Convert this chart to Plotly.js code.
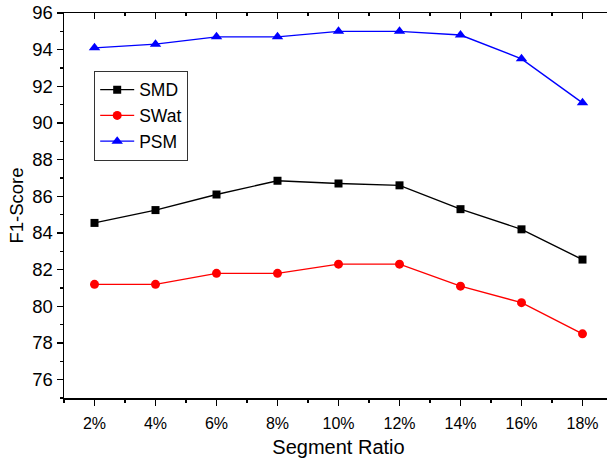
<!DOCTYPE html>
<html>
<head>
<meta charset="utf-8">
<script src="https://cdn.plot.ly/plotly-3.0.1.min.js"></script>
<style>
html, body { margin: 0; padding: 0; overflow: hidden; background: #fff; }
#chart { width: 613px; height: 461px; }
</style>
</head>
<body>
<div id="chart"></div>
<script>
const ratios = [2, 4, 6, 8, 10, 12, 14, 16, 18];
const tickLabels = ['2%', '4%', '6%', '8%', '10%', '12%', '14%', '16%', '18%'];
const smd = [84.55, 85.25, 86.1, 86.85, 86.7, 86.6, 85.3, 84.2, 82.55];
const swat = [81.2, 81.2, 81.8, 81.8, 82.3, 82.3, 81.1, 80.2, 78.5];
const psm = [94.1, 94.3, 94.7, 94.7, 95.0, 95.0, 94.8, 93.5, 91.1];

const FONT = 'Arial, "Liberation Sans", sans-serif';

const traces = [
  { x: ratios, y: smd, name: 'SMD', mode: 'lines+markers',
    line: { color: '#000000', width: 1.4 },
    marker: { symbol: 'square', size: 8, color: '#000000' } },
  { x: ratios, y: swat, name: 'SWat', mode: 'lines+markers',
    line: { color: '#ff0000', width: 1.4 },
    marker: { symbol: 'circle', size: 9, color: '#ff0000' } },
  { x: ratios, y: psm, name: 'PSM', mode: 'lines+markers',
    line: { color: '#0000ff', width: 1.4 },
    marker: { symbol: 'triangle-up', size: 10, color: '#0000ff' } },
  { x: [ratios[0]], y: [psm[0]], xaxis: 'x2', yaxis: 'y2', mode: 'markers',
    marker: { opacity: 0 }, showlegend: false, hoverinfo: 'skip' }
];

const layout = {
  width: 613, height: 461,
  margin: { l: 64, r: 0, t: 13, b: 63 },
  paper_bgcolor: '#ffffff', plot_bgcolor: '#ffffff',
  font: { family: FONT, color: '#000000' },
  showlegend: true,
  legend: {
    x: 0.055, y: 0.85, xanchor: 'left', yanchor: 'top',
    bordercolor: '#333333', borderwidth: 1, bgcolor: '#ffffff',
    font: { family: FONT, size: 17.5, color: '#000000' },
    tracegroupgap: 0, itemwidth: 34
  },
  xaxis: {
    range: [1, 19], tickmode: 'array', tickvals: ratios, ticktext: tickLabels,
    ticks: 'outside', ticklen: 6, tickwidth: 1.5, tickcolor: '#000',
    ticklabelstandoff: 4,
    showline: true, linecolor: '#000', linewidth: 1.5, mirror: true,
    showgrid: false, zeroline: false,
    tickfont: { family: FONT, size: 16 },
    minor: { tickmode: 'linear', tick0: 1, dtick: 2, ticks: 'outside', ticklen: 3, tickwidth: 1.5, tickcolor: '#000', showgrid: false },
    title: { text: 'Segment Ratio', font: { family: FONT, size: 20 }, standoff: 9 }
  },
  yaxis: {
    range: [75, 96], tickmode: 'linear', tick0: 76, dtick: 2,
    ticks: 'outside', ticklen: 6, tickwidth: 1.5, tickcolor: '#000',
    showline: true, linecolor: '#000', linewidth: 1.5, mirror: true,
    showgrid: false, zeroline: false,
    tickfont: { family: FONT, size: 18.5 },
    minor: { tickmode: 'linear', tick0: 75, dtick: 2, ticks: 'outside', ticklen: 3, tickwidth: 1.5, tickcolor: '#000', showgrid: false },
    title: { text: 'F1-Score', font: { family: FONT, size: 18.5 }, standoff: 3 }
  },
  xaxis2: {
    overlaying: 'x', side: 'top', anchor: 'y2', range: [1, 19],
    tickmode: 'array', tickvals: ratios, showticklabels: false,
    ticks: 'inside', ticklen: 6, tickwidth: 1.5, tickcolor: '#000',
    showline: false, showgrid: false, zeroline: false,
    minor: { tickmode: 'linear', tick0: 1, dtick: 2, ticks: 'inside', ticklen: 3, tickwidth: 1.5, tickcolor: '#000', showgrid: false }
  },
  yaxis2: {
    overlaying: 'y', side: 'right', anchor: 'x2', range: [75, 96],
    tickmode: 'linear', tick0: 76, dtick: 2, showticklabels: false,
    ticks: 'inside', ticklen: 6, tickwidth: 1.5, tickcolor: '#000',
    showline: false, showgrid: false, zeroline: false,
    minor: { tickmode: 'linear', tick0: 75, dtick: 2, ticks: 'inside', ticklen: 3, tickwidth: 1.5, tickcolor: '#000', showgrid: false }
  }
};

Plotly.newPlot('chart', traces, layout, { displayModeBar: false, staticPlot: true });
</script>
</body>
</html>
